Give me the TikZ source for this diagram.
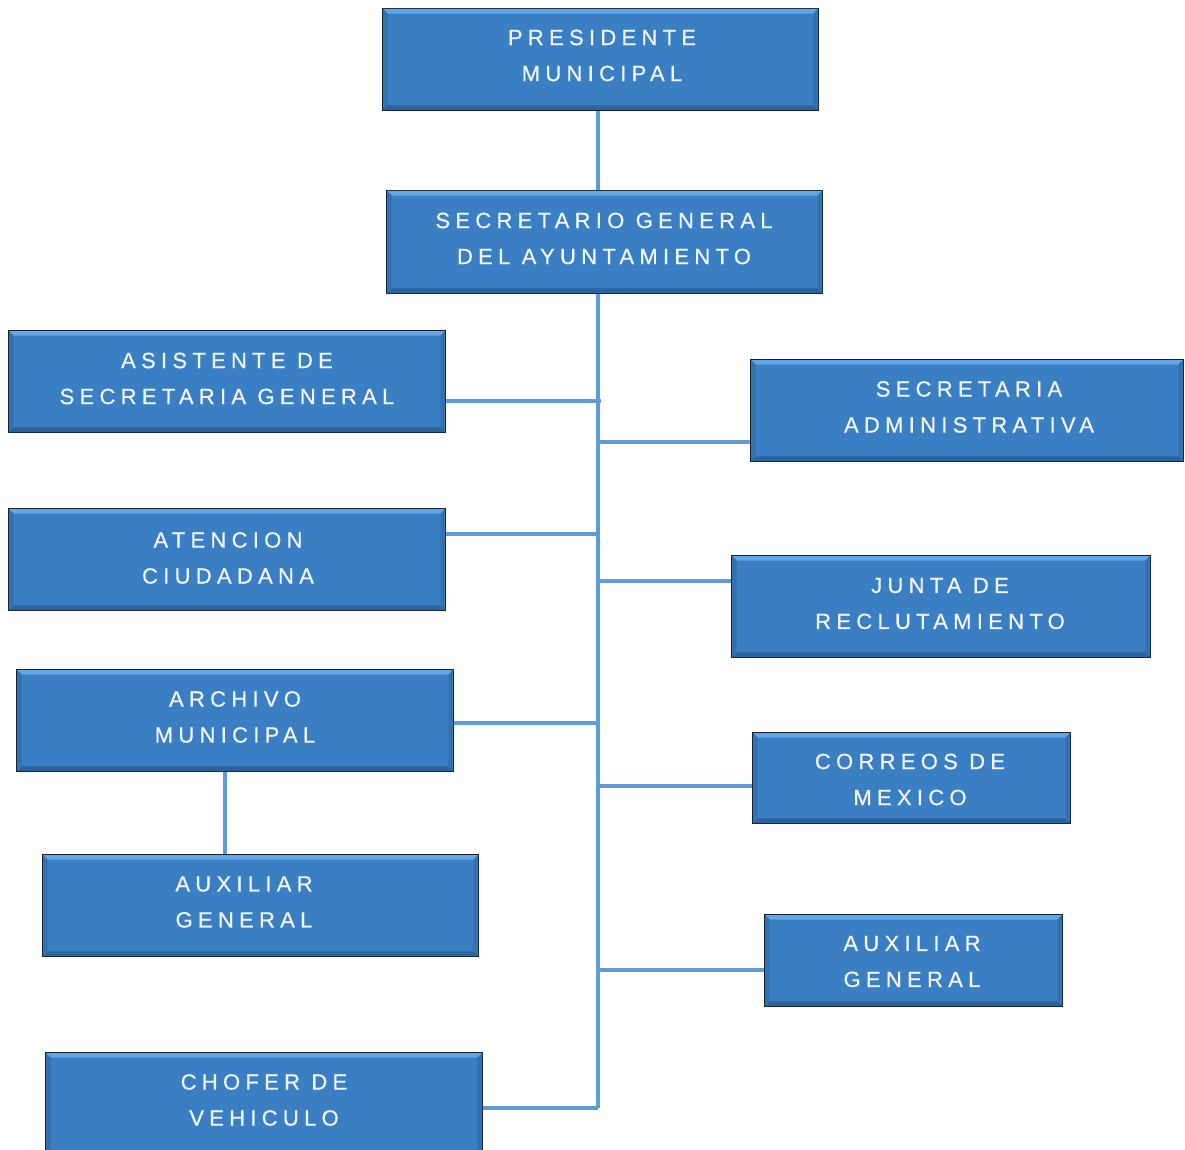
\documentclass[tikz,border=0pt]{standalone}
\usepackage{fontspec}
\newfontfamily\boxfont{Liberation Sans}[LetterSpace=24,FakeBold=0.6]
\usetikzlibrary{backgrounds}
\definecolor{boxblue}{HTML}{3A7EC3}
\definecolor{boxlight}{HTML}{62A6E8}
\definecolor{boxdark}{HTML}{2C639C}
\definecolor{boxside}{HTML}{3371B0}
\definecolor{edgecol}{HTML}{15222F}
\definecolor{conncol}{HTML}{5E9CD8}
\definecolor{textcol}{HTML}{F2F6FB}
\tikzset{
  orgbox/.style={draw=edgecol, line width=2.8pt, fill=boxblue, rectangle, inner sep=0pt},
  boxtext/.style={text=textcol, align=center, inner sep=0pt, font=\boxfont\fontsize{22}{36}\selectfont},
  conn/.style={draw=conncol, line width=3.2pt}
}
\newcommand\bevel[1]{%
  \fill[boxlight] ([shift={(1.4pt,-1.4pt)}]#1.north west) -- ([shift={(-1.4pt,-1.4pt)}]#1.north east) -- ([shift={(-6pt,-6pt)}]#1.north east) -- ([shift={(6pt,-6pt)}]#1.north west) -- cycle;
  \fill[boxdark] ([shift={(1.4pt,1.4pt)}]#1.south west) -- ([shift={(-1.4pt,1.4pt)}]#1.south east) -- ([shift={(-6pt,6pt)}]#1.south east) -- ([shift={(6pt,6pt)}]#1.south west) -- cycle;
  \fill[boxside] ([shift={(1.4pt,-1.4pt)}]#1.north west) -- ([shift={(6pt,-6pt)}]#1.north west) -- ([shift={(6pt,6pt)}]#1.south west) -- ([shift={(1.4pt,1.4pt)}]#1.south west) -- cycle;
  \fill[boxside] ([shift={(-1.4pt,-1.4pt)}]#1.north east) -- ([shift={(-6pt,-6pt)}]#1.north east) -- ([shift={(-6pt,6pt)}]#1.south east) -- ([shift={(-1.4pt,1.4pt)}]#1.south east) -- cycle;
}
\begin{document}
\begin{tikzpicture}[x=1pt,y=-1pt]
\useasboundingbox (0,0) rectangle (1185,1150);
\clip (0,0) rectangle (1185,1150);

% boxes
\node[orgbox, minimum width=435pt, minimum height=101pt] (pres) at (600.5,59.5) {};
\node[orgbox, minimum width=435pt, minimum height=102pt] (sec) at (604.5,242) {};
\node[orgbox, minimum width=436pt, minimum height=101pt] (asis) at (227,381.5) {};
\node[orgbox, minimum width=432pt, minimum height=101pt] (sadm) at (967,410.5) {};
\node[orgbox, minimum width=436pt, minimum height=101pt] (aten) at (227,559.5) {};
\node[orgbox, minimum width=418pt, minimum height=101pt] (junta) at (941,606.5) {};
\node[orgbox, minimum width=436pt, minimum height=101pt] (arch) at (235,720.5) {};
\node[orgbox, minimum width=317pt, minimum height=90pt] (corr) at (911.5,778) {};
\node[orgbox, minimum width=435pt, minimum height=101pt] (auxl) at (260.5,905.5) {};
\node[orgbox, minimum width=297pt, minimum height=91pt] (auxr) at (913.5,960.5) {};
\node[orgbox, minimum width=436pt, minimum height=107pt] (chof) at (264,1106.5) {};

\bevel{pres}\bevel{sec}\bevel{asis}\bevel{sadm}\bevel{aten}\bevel{junta}
\bevel{arch}\bevel{corr}\bevel{auxl}\bevel{auxr}\bevel{chof}

% texts
\node[boxtext] (tpres) at (602,55.5) {PRESIDENTE\\MUNICIPAL};
\node[boxtext] (tsec) at (604,238.5) {SECRETARIO GENERAL\\DEL AYUNTAMIENTO};
\node[boxtext] (tasis) at (227,378.5) {ASISTENTE DE\\SECRETARIA GENERAL};
\node[boxtext] (tsadm) at (969,407) {SECRETARIA\\ADMINISTRATIVA};
\node[boxtext] (taten) at (228,558) {ATENCION\\CIUDADANA};
\node[boxtext] (tjunta) at (940,603.5) {JUNTA DE\\RECLUTAMIENTO};
\node[boxtext] (tarch) at (235,717) {ARCHIVO\\MUNICIPAL};
\node[boxtext] (tcorr) at (910,779.5) {CORREOS DE\\MEXICO};
\node[boxtext] (tauxl) at (244,902) {AUXILIAR\\GENERAL};
\node[boxtext] (tauxr) at (912,961.5) {AUXILIAR\\GENERAL};
\node[boxtext] (tchof) at (264,1100) {CHOFER DE\\VEHICULO};

% connectors
\begin{scope}[on background layer]
\coordinate (tb) at (598,1108);
\coordinate (j1) at (601,401);
\coordinate (j2) at (598,442);
\coordinate (j3) at (598,534);
\coordinate (j4) at (598,581);
\coordinate (j5) at (598,723);
\coordinate (j6) at (598,786);
\coordinate (j7) at (598,970);
\coordinate (ax) at (225,0);
\draw[conn] (pres.south -| tb) -- (sec.north -| tb);
\draw[conn] (sec.south -| tb) -- (tb);
\draw[conn] (asis.east |- j1) -- (j1);
\draw[conn] (j2) -- (sadm.west |- j2);
\draw[conn] (aten.east |- j3) -- (j3);
\draw[conn] (j4) -- (junta.west |- j4);
\draw[conn] (arch.east |- j5) -- (j5);
\draw[conn] (j6) -- (corr.west |- j6);
\draw[conn] (j7) -- (auxr.west |- j7);
\draw[conn] (chof.east |- tb) -- (tb);
\draw[conn] (arch.south -| ax) -- (auxl.north -| ax);
\end{scope}
\end{tikzpicture}
\end{document}
